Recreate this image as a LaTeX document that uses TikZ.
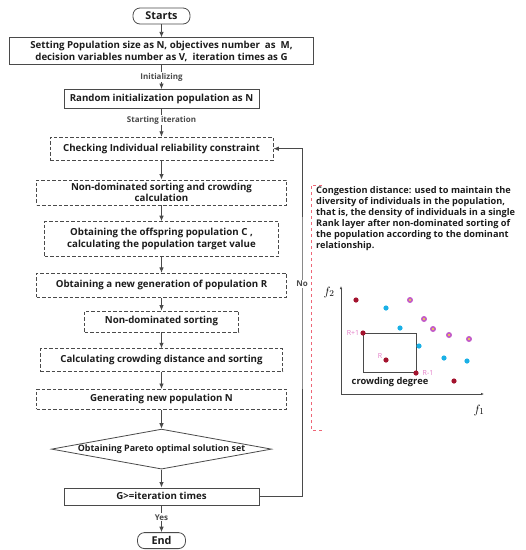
\documentclass[tikz,border=0pt]{standalone}
\usepackage{fontspec}
\setmainfont{Open Sans}
\usetikzlibrary{
  shapes,
  arrows,
  arrows.meta,
  shapes.geometric,
  positioning,
}
\definecolor{boxgray}{HTML}{4A4A4A}
\definecolor{textdark}{HTML}{1C1C1C}
\definecolor{bracketred}{HTML}{EE6677}
\definecolor{dotred}{HTML}{A3132E}
\definecolor{dotcyan}{HTML}{1AB0E6}
\definecolor{dotpurple}{HTML}{C25BC8}
\definecolor{dotyellow}{HTML}{F2E23A}
\definecolor{labelpink}{HTML}{E27BC6}
\newcommand\flowfont{\fontsize{9.7}{11.5}\selectfont\bfseries}
\tikzstyle{terminal} = [
rectangle,
draw=boxgray,
line width=0.8pt,
rounded corners=7pt,
minimum width=57pt,
minimum height=16pt,
inner sep=0pt,
text=textdark,
font=\fontsize{10.8}{12}\selectfont\bfseries
]
\tikzstyle{solidbox} = [
rectangle,
draw=boxgray,
line width=0.7pt,
inner sep=1pt,
align=center,
text=textdark,
font=\flowfont
]
\tikzstyle{dashedbox} = [
solidbox,
dash pattern=on 3.5pt off 2pt
]
\tikzstyle{decision} = [
diamond,
draw=boxgray,
line width=0.8pt,
aspect=5.5,
inner sep=0pt,
minimum width=220pt,
minimum height=40pt,
text=textdark,
font=\fontsize{8.9}{10}\selectfont\bfseries
]
\tikzstyle{arrow} = [draw=boxgray, line width=0.8pt, -{Latex[length=5.5pt,width=4.5pt]}]
\tikzstyle{flowlabel} = [
fill=white,
inner sep=1pt,
text=boxgray,
font=\fontsize{8}{9}\selectfont\bfseries
]

\begin{document}
\begin{tikzpicture}[x=1pt, y=1pt]
  \useasboundingbox (0,0) rectangle (526,-550);
  % Place nodes
  \node [terminal] (start) at (161.5,-16) {Starts};
  \node [solidbox, below=13pt of start, minimum width=304pt, minimum height=27pt] (setting) {Setting Population size as N, objectives number~ as~ M,\\decision variables number as V,~ iteration times as G};
  \node [solidbox, below=24pt of setting, minimum width=195pt, minimum height=19pt] (init) {Random initialization population as N};
  \node [dashedbox, below=28pt of init, minimum width=223pt, minimum height=23pt] (check) {Checking Individual reliability constraint};
  \node [dashedbox, below=19pt of check, minimum width=250pt, minimum height=25pt] (sortcrowd) {Non-dominated sorting and crowding\\calculation};
  \node [dashedbox, below=16pt of sortcrowd, minimum width=234pt, minimum height=35pt] (offspring) {Obtaining the offspring population C ,\\calculating the population target value};
  \node [dashedbox, below=16pt of offspring, minimum width=250pt, minimum height=24pt] (newgen) {Obtaining a new generation of population R};
  \node [dashedbox, below=13pt of newgen, minimum width=154pt, minimum height=21pt] (sorting) {Non-dominated sorting};
  \node [dashedbox, below=16pt of sorting, minimum width=242pt, minimum height=23pt] (crowding) {Calculating crowding distance and sorting};
  \node [dashedbox, below=17pt of crowding, minimum width=250pt, minimum height=20pt] (newpop) {Generating new population N};
  \node [decision, below=19pt of newpop] (pareto) {Obtaining Pareto optimal solution set};
  \node [solidbox, below=18pt of pareto, minimum width=195pt, minimum height=17pt] (iter) {G>=iteration times};
  \node [terminal, below=27pt of iter, minimum width=48pt] (finish) {End};

  % Draw edges
  \path [arrow] (start) -- (setting);
  \path [arrow] (setting) -- node [flowlabel] {Initializing} (init);
  \path [arrow] (init) -- node [flowlabel, pos=0.4] {Starting iteration} (check);
  \path [arrow] (check) -- (sortcrowd);
  \path [arrow] (sortcrowd) -- (offspring);
  \path [arrow] (offspring) -- (newgen);
  \path [arrow] (newgen) -- (sorting);
  \path [arrow] (sorting) -- (crowding);
  \path [arrow] (crowding) -- (newpop);
  \path [arrow] (newpop) -- (pareto);
  \path [arrow] (pareto) -- (iter);
  \path [arrow] (iter) -- node [flowlabel, pos=0.45] {Yes} (finish);
  \path [arrow] (iter.east) -| (302,-284) node [flowlabel] {No} |- (check.east);

  % Crowding distance note
  \draw [bracketred, dashed, line width=0.6pt] (322,-185) -- (311,-185) -- (311,-430) -- (322,-430);
  \node [anchor=north west, align=left, inner sep=0pt, text=textdark, font=\fontsize{9.2}{11}\selectfont\bfseries] (note) at (316,-186) {Congestion distance: used to maintain the\\diversity of individuals in the population,\\that is, the density of individuals in a single\\Rank layer after non-dominated sorting of\\the population according to the dominant\\relationship.};

  % Objective space
  \draw [boxgray, line width=0.8pt, -{Latex[length=3pt,width=2.5pt]}] (341,-394) -- (341,-286);
  \draw [boxgray, line width=0.8pt, -{Latex[length=3pt,width=2.5pt]}] (341,-394) -- (484,-394);
  \node (ftwo) at (329,-292) {\fontsize{13}{13}\selectfont$f_2$};
  \node (fone) at (479,-410) {\fontsize{13}{13}\selectfont$f_1$};
  \draw [boxgray, line width=0.9pt] (363,-333) rectangle (416,-372);
  \foreach \x/\y in {386/308, 400/328, 419/346, 444/358, 467/361}
    \fill [dotcyan] (\x,-\y) circle (2.6pt);
  \foreach \x/\y in {410/300, 424/319, 433/329, 449/335, 469/339} {
    \fill [dotpurple] (\x,-\y) circle (3pt);
    \fill [dotyellow] (\x,-\y) circle (1.2pt);
  }
  \foreach \x/\y in {356/300, 363/333, 386/360, 416/373, 454/381}
    \fill [dotred] (\x,-\y) circle (2.6pt);
  \node [text=labelpink, font=\fontsize{7}{8}\selectfont] (rplus) at (353,-333) {R+1};
  \node [text=labelpink, font=\fontsize{7}{8}\selectfont] (rmid) at (380,-356) {R};
  \node [text=labelpink, font=\fontsize{7}{8}\selectfont] (rminus) at (428,-373) {R-1};
  \node [text=textdark, font=\fontsize{9.3}{10}\selectfont\bfseries] (degree) at (390,-382) {crowding degree};
\end{tikzpicture}
\end{document}
